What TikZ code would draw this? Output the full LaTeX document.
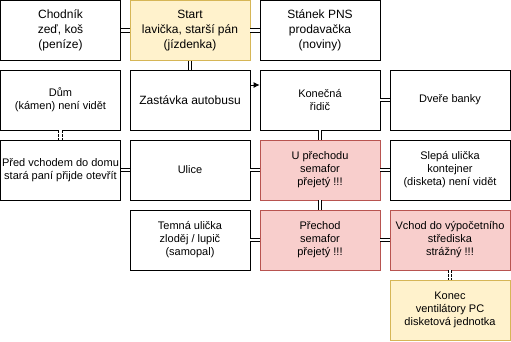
\documentclass[tikz,border=0pt]{standalone}
\usepackage{fontspec}
\setmainfont{Liberation Sans}
\usetikzlibrary{arrows.meta}
\definecolor{boxyellow}{HTML}{FFF2CC}
\definecolor{lineyellow}{HTML}{D6B656}
\definecolor{boxred}{HTML}{F8CECC}
\definecolor{linered}{HTML}{B85450}
\tikzset{
  place/.style={draw, line width=0.8pt, minimum width=120pt, minimum height=60pt,
    inner sep=1pt, align=center, font=\fontsize{11}{13}\selectfont},
  bigtext/.style={font=\fontsize{12}{15}\selectfont},
  yellowbox/.style={fill=boxyellow, draw=lineyellow},
  redbox/.style={fill=boxred, draw=linered},
  link/.style={double, double distance=2.6pt, line width=1pt},
  dashlink/.style={link, dash pattern=on 2.5pt off 1.5pt},
}
\begin{document}
\begin{tikzpicture}[x=1pt,y=-1pt]
  \useasboundingbox (0,0) rectangle (511,341);

  % row 1
  \node[place,bigtext] (chodnik) at (60.5,30.5) {Chodník\\zeď, koš\\(peníze)};
  \node[place,bigtext,yellowbox] (start) at (190,30.5) {Start\\lavička, starší pán\\(jízdenka)};
  \node[place,bigtext] (stanek) at (320,30.5) {Stánek PNS\\prodavačka\\(noviny)};
  % row 2
  \node[place] (dum) at (60.5,100) {Dům\\(kámen) není vidět};
  \node[place,bigtext] (zastavka) at (190,100) {Zastávka autobusu};
  \node[place] (konecna) at (320,100) {Konečná\\řidič};
  \node[place] (dvere) at (450,100) {Dveře banky};
  % row 3
  \node[place] (pred) at (60.5,170) {Před vchodem do domu\\stará paní přijde otevřít};
  \node[place] (ulice) at (190,170) {Ulice};
  \node[place,redbox] (uprechodu) at (320,170) {U přechodu\\semafor\\přejetý !!!};
  \node[place] (slepa) at (450,170) {Slepá ulička\\kontejner\\(disketa) není vidět};
  % row 4
  \node[place] (temna) at (190,240) {Temná ulička\\zloděj / lupič\\(samopal)};
  \node[place,redbox] (prechod) at (320,240) {Přechod\\semafor\\přejetý !!!};
  \node[place,redbox] (vchod) at (450,240) {Vchod do výpočetního\\střediska\\strážný !!!};
  % row 5
  \node[place,yellowbox] (konec) at (450,310) {Konec\\ventilátory PC\\disketová jednotka};

  % links
  \draw[link] (chodnik) -- (start);
  \draw[link] (start) -- (stanek);
  \draw[link] (start) -- (zastavka);
  \draw[-{Latex[length=6pt,width=6pt]}, line width=0.8pt]
    ([yshift=15pt]zastavka.east) -- ([yshift=15pt]konecna.west);
  \draw[link] (konecna) -- (dvere);
  \draw[link] (konecna) -- (uprechodu);
  \draw[dashlink] (dum) -- (pred);
  \draw[link] (pred) -- (ulice);
  \draw[link] (ulice) -- (uprechodu);
  \draw[link] (uprechodu) -- (slepa);
  \draw[link] (uprechodu) -- (prechod);
  \draw[link] (temna) -- (prechod);
  \draw[link] (prechod) -- (vchod);
  \draw[dashlink] (vchod) -- (konec);
\end{tikzpicture}
\end{document}
